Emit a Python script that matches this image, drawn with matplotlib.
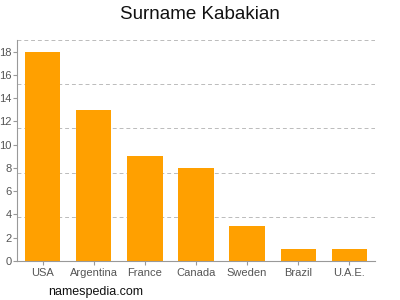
import matplotlib
matplotlib.use("Agg")
import matplotlib.pyplot as plt

plt.rcParams["font.family"] = ["Liberation Sans", "DejaVu Sans"]

countries = ["USA", "Argentina", "France", "Canada", "Sweden", "Brazil", "U.A.E."]
counts = [18, 13, 9, 8, 3, 1, 1]
yticks = list(range(0, 19, 2))
grid_levels = [3.8, 7.6, 11.4, 15.2, 19.0]

fig = plt.figure(figsize=(4, 3), dpi=100)
ax = fig.add_axes([17 / 400, 1 - 261 / 300, (375 - 17) / 400, (261 - 40) / 300])

x = list(range(len(countries)))
ax.bar(x, counts, width=0.69, color="#FFA000", zorder=2)

for g in grid_levels:
    ax.axhline(g, color="#bbbbbb", lw=0.7, ls=(0, (4, 3)), zorder=1)

ax.set_xlim(-0.5, len(countries) - 0.5)
ax.set_ylim(0, 19)
ax.set_xticks(x)
ax.set_xticklabels(countries)
ax.set_yticks(yticks)

for s in ["top", "right"]:
    ax.spines[s].set_visible(False)
for s in ["left", "bottom"]:
    ax.spines[s].set_color("#999999")
    ax.spines[s].set_linewidth(0.8)

ax.tick_params(axis="both", colors="#999999", labelcolor="#555555", labelsize=8, length=3, width=0.8)
ax.tick_params(axis="y", pad=1)
ax.tick_params(axis="x", pad=2)

fig.text(0.5, 0.953, "Surname Kabakian", ha="center", va="center", fontsize=13.5, color="#111111")
fig.text(48 / 400, 1 - 292 / 300, "namespedia.com", ha="left", va="center", fontsize=9, color="#111111")

fig.savefig("out.png", dpi=100)
